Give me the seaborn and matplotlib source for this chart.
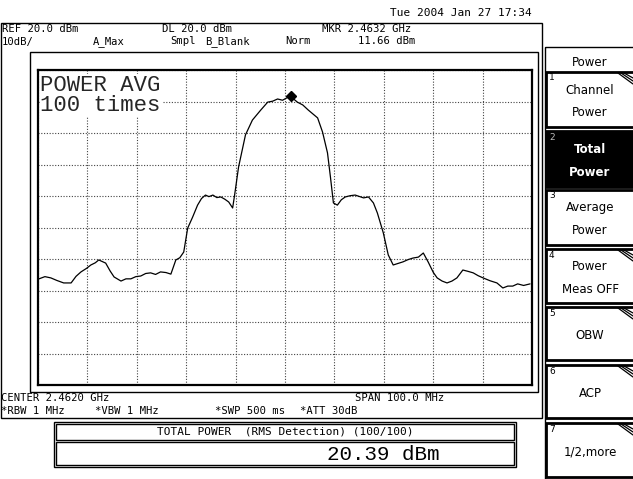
import numpy as np
import pandas as pd
import matplotlib
matplotlib.use("Agg")
import matplotlib.pyplot as plt
import matplotlib.transforms as mtransforms
from matplotlib.patches import Rectangle
import seaborn as sns

# trace: offset from centre (MHz) and level (dBm)
offset_mhz = [-49.8, -48.6, -47.4, -46.2, -44.8, -43.3, -42.3, -41.3, -40.2, -39.3, -38.4,
              -37.7, -36.3, -35.4, -34.6, -33.2, -32.2, -31.2, -30.2, -29.2, -28.2, -27.2,
              -26.2, -25.2, -24.1, -23.1, -22.1, -21.3, -20.5, -19.7, -18.7, -17.7, -16.9,
              -16.1, -15.4, -14.6, -13.8, -13.0, -12.2, -11.4, -10.6, -10.2, -9.4, -8.0,
              -6.6, -4.9, -3.5, -2.5, -1.5, -0.5, 0.3, 1.1, 2.5, 3.6, 4.7, 6.6, 7.6, 8.6,
              9.2, 9.8, 10.6, 11.4, 12.2, 13.2, 14.2, 15.9, 16.9, 17.9, 18.7, 19.9, 20.9,
              21.9, 22.9, 23.9, 24.9, 25.9, 27.0, 28.0, 29.0, 30.0, 30.8, 31.8, 32.8,
              33.8, 34.8, 36.0, 37.0, 38.1, 39.1, 40.1, 41.5, 42.9, 44.1, 45.1, 46.1,
              47.1, 48.3, 49.6]
level_dbm = [-46.3, -45.6, -46.0, -46.8, -47.6, -47.6, -45.5, -44.1, -43.0, -41.9, -41.2,
             -40.3, -41.3, -43.8, -45.7, -47.0, -46.3, -46.3, -45.6, -45.4, -44.6, -44.4,
             -44.9, -44.1, -44.3, -44.8, -40.3, -39.6, -37.8, -30.2, -26.7, -22.9, -20.8,
             -19.7, -20.2, -19.7, -20.5, -20.3, -21.0, -21.9, -23.8, -19.7, -10.8, -0.6,
             4.1, 7.3, 9.8, 10.1, 10.8, 10.4, 11.1, 11.66, 9.8, 8.9, 7.3, 4.8, 0.3, -6.3,
             -14.0, -22.2, -22.9, -21.2, -20.3, -19.9, -19.7, -20.6, -20.3, -22.2, -25.4,
             -31.7, -38.7, -41.9, -41.4, -40.9, -40.2, -39.7, -39.4, -38.1, -41.0, -44.2,
             -46.0, -47.0, -47.6, -47.0, -46.0, -43.5, -43.9, -44.4, -45.3, -46.0, -46.9,
             -47.6, -49.2, -48.6, -48.6, -47.9, -48.4, -47.9]

center_ghz = 2.462
span_mhz = 100.0
ref_dbm = 20.0
db_per_div = 10.0
marker_ghz = 2.4632
marker_dbm = 11.66

menu_title = "Power"
menu_items = [("1", "Channel\nPower"), ("2", "Total\nPower"), ("3", "Average\nPower"),
              ("4", "Power\nMeas OFF"), ("5", "OBW"), ("6", "ACP"), ("7", "1/2,more")]
menu_tops = [72, 131, 190, 249, 307, 365, 423]
menu_bottoms = [127, 187, 245, 303, 360, 418, 477]
menu_sub = [True, False, False, True, True, True, True]

df = pd.DataFrame({"freq": center_ghz + np.array(offset_mhz) / 1000.0, "level": level_dbm})

W, H = 633, 479
sns.set_style("white")
plt.rcParams["font.family"] = ["DejaVu Sans Mono", "DejaVu Sans"]
fig = plt.figure(figsize=(W / 100, H / 100), dpi=100)
# pixel coordinates, origin top-left
px = mtransforms.Affine2D().scale(0.01, -0.01).translate(0, H / 100) + fig.dpi_scale_trans


def box(x0, y0, x1, y1, lw=1.0, fc="none", ec="black", z=1):
    fig.patches.append(Rectangle((x0, y0), x1 - x0, y1 - y0, transform=px, lw=lw,
                                 fc=fc, ec=ec, zorder=z, clip_on=False))


def txt(x, y, s, size=7.6, ha="left", va="baseline", color="black", family=None,
        weight="normal", ls=1.2):
    kw = {} if family is None else {"family": family}
    fig.text(x, y, s, transform=px, fontsize=size, ha=ha, va=va, color=color,
             weight=weight, linespacing=ls, **kw)


# screen frames
box(0.5, 23, 542, 418, lw=1.0)
box(30, 52, 538, 392, lw=1.0)

# graticule
ax = fig.add_axes([38 / W, 1 - 385 / H, 494 / W, 315 / H])
x_lo = center_ghz - span_mhz / 2000
x_hi = center_ghz + span_mhz / 2000
ax.set_xlim(x_lo, x_hi)
ax.set_ylim(ref_dbm - 10 * db_per_div, ref_dbm)
ax.set_xticks(np.linspace(x_lo, x_hi, 11))
ax.set_yticks(np.linspace(ref_dbm - 10 * db_per_div, ref_dbm, 11))
ax.set_xticklabels([])
ax.set_yticklabels([])
ax.tick_params(length=0)
ax.grid(True, color="#444444", linestyle=(0, (1, 1.5)), linewidth=0.8)
for s in ax.spines.values():
    s.set_linewidth(1.6)
    s.set_color("black")
sns.lineplot(data=df, x="freq", y="level", ax=ax, color="black", linewidth=0.9)
ax.plot([marker_ghz], [marker_dbm], marker="D", color="black", markersize=5)
ax.set_xlabel("")
ax.set_ylabel("")
ax.text(0.005, 0.985, "POWER AVG\n100 times", transform=ax.transAxes, ha="left", va="top",
        fontsize=16, family=["Liberation Mono", "DejaVu Sans Mono"], linespacing=0.95,
        bbox=dict(fc="white", ec="none", pad=0.5))

# header texts
txt(532, 16, "Tue 2004 Jan 27 17:34", ha="right", size=8)
txt(2, 32, "REF 20.0 dBm")
txt(162, 32, "DL 20.0 dBm")
txt(322, 32, "MKR 2.4632 GHz")
txt(2, 44.5, "10dB/")
txt(93, 44.5, "A_Max")
txt(170, 44.5, "Smpl")
txt(205, 44.5, "B_Blank")
txt(285, 44.5, "Norm")
txt(358, 44.5, "11.66 dBm")

# footer texts
txt(1, 401, "CENTER 2.4620 GHz")
txt(355, 401, "SPAN 100.0 MHz")
txt(1, 414, "*RBW 1 MHz")
txt(95, 414, "*VBW 1 MHz")
txt(215, 414, "*SWP 500 ms")
txt(300, 414, "*ATT 30dB")

# total power box
box(54, 422, 516, 467, lw=1.0)
box(56, 424, 514, 440, lw=1.0)
box(56, 442, 514, 465, lw=1.0)
txt(285, 432, "TOTAL POWER  (RMS Detection) (100/100)", ha="center", va="center", size=8)
txt(383, 454, "20.39 dBm", size=15, ha="center", va="center",
    family=["Liberation Mono", "DejaVu Sans Mono"])

# soft-key menu
box(545, 47, 640, 479, lw=1.0)
txt(590, 62, menu_title, ha="center", va="center", family="DejaVu Sans", size=8.5)
for (num, label), top, bot, sub in zip(menu_items, menu_tops, menu_bottoms, menu_sub):
    active = num == "2"
    box(546, top, 640, bot, lw=2.0, fc="black" if active else "white")
    fg = "white" if active else "black"
    txt(549, top + 6, num, size=6.5, va="center", color="#bbbbbb" if active else "black",
        family="DejaVu Sans")
    txt(590, (top + bot) / 2 + 2, label, ha="center", va="center", color=fg,
        family="DejaVu Sans", size=8.5, weight="bold" if active else "normal", ls=2.0)
    if sub:
        for k in range(3):
            fig.lines.append(plt.Line2D([618 + 3 * k, 633], [top + 1, top + 12 - 3 * k],
                                        transform=px, color="black", lw=0.9))

fig.savefig("out.png", dpi=100)
